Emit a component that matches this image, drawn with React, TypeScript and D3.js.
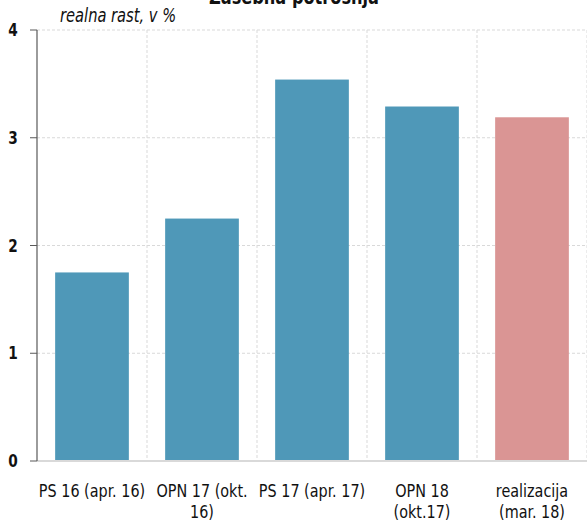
import React from "react";
import * as d3 from "d3";

const categories: string[][] = [
  ["PS 16 (apr. 16)"],
  ["OPN 17 (okt.", "16)"],
  ["PS 17 (apr. 17)"],
  ["OPN 18", "(okt.17)"],
  ["realizacija", "(mar. 18)"],
];
const values: number[] = [1.75, 2.25, 3.54, 3.29, 3.19];
const barColors: string[] = ["#4f98b8", "#4f98b8", "#4f98b8", "#4f98b8", "#da9594"];
const yTicks: number[] = [0, 1, 2, 3, 4];
const title = "Zasebna potrošnja";
const subtitle = "realna rast, v %";

const W = 587;
const H = 522;
const margin = { left: 37, right: 0, top: 30, bottom: 61 };
const FONT = "'DejaVu Sans Condensed', 'Liberation Sans Narrow', 'DejaVu Sans', sans-serif";
// tall, narrow lettering
const TALL = 1.15;

export default function App() {
  const idx = categories.map((_, i) => i);
  const x = d3
    .scaleBand<number>()
    .domain(idx)
    .range([margin.left, W - margin.right])
    .paddingInner(0.33)
    .paddingOuter(0.165);
  const step = x.step();
  const y = d3.scaleLinear().domain([0, 4]).range([H - margin.bottom, margin.top]);
  const bandStart = margin.left;

  return (
    <svg
      width={W}
      height={H}
      style={{ position: "fixed", left: 0, top: 0, background: "#fff" }}
      fontFamily={FONT}
    >
      {/* horizontal grid */}
      {yTicks
        .filter((t) => t > 0)
        .map((t) => (
          <line
            key={"h" + t}
            x1={margin.left}
            x2={W}
            y1={y(t)}
            y2={y(t)}
            stroke="#d9d9d9"
            strokeWidth={1}
            strokeDasharray="3,2"
          />
        ))}
      {/* vertical grid at category boundaries */}
      {idx.map((i) => {
        const gx = bandStart + step * (i + 1);
        return (
          <line
            key={"v" + i}
            x1={gx}
            x2={gx}
            y1={y(4)}
            y2={y(0)}
            stroke="#d9d9d9"
            strokeWidth={1}
            strokeDasharray="3,2"
          />
        );
      })}
      {/* bars */}
      {values.map((v, i) => (
        <rect
          key={"b" + i}
          x={x(i)}
          y={y(v)}
          width={x.bandwidth()}
          height={y(0) - y(v)}
          fill={barColors[i]}
        />
      ))}
      {/* x axis baseline */}
      <line x1={margin.left} x2={W} y1={y(0)} y2={y(0)} stroke="#d9d9d9" strokeWidth={2} />
      {/* y axis */}
      <line x1={margin.left} x2={margin.left} y1={y(4)} y2={y(0)} stroke="#595959" strokeWidth={1.2} />
      {yTicks.map((t) => (
        <g key={"t" + t}>
          <line x1={margin.left - 7} x2={margin.left} y1={y(t)} y2={y(t)} stroke="#595959" strokeWidth={1} />
          <text
            transform={`translate(13,${y(t) + 6}) scale(0.95,${TALL})`}
            textAnchor="middle"
            fontSize={16}
            fontWeight="bold"
            fill="#111"
          >
            {t}
          </text>
        </g>
      ))}
      {/* category labels */}
      {categories.map((lines, i) => {
        const cx = (x(i) ?? 0) + x.bandwidth() / 2;
        return (
          <g key={"c" + i}>
            {lines.map((l, j) => (
              <text
                key={j}
                transform={`translate(${cx},${497 + j * 21}) scale(1,${TALL})`}
                textAnchor="middle"
                fontSize={16}
                fill="#111"
              >
                {l}
              </text>
            ))}
          </g>
        );
      })}
      {/* titles */}
      <text
        transform={`translate(294,4) scale(1,${TALL})`}
        textAnchor="middle"
        fontSize={18}
        fontWeight="bold"
        fill="#111"
      >
        {title}
      </text>
      <text
        transform={`translate(60,22) scale(0.96,${TALL})`}
        fontSize={17}
        fontStyle="italic"
        fill="#111"
      >
        {subtitle}
      </text>
    </svg>
  );
}
